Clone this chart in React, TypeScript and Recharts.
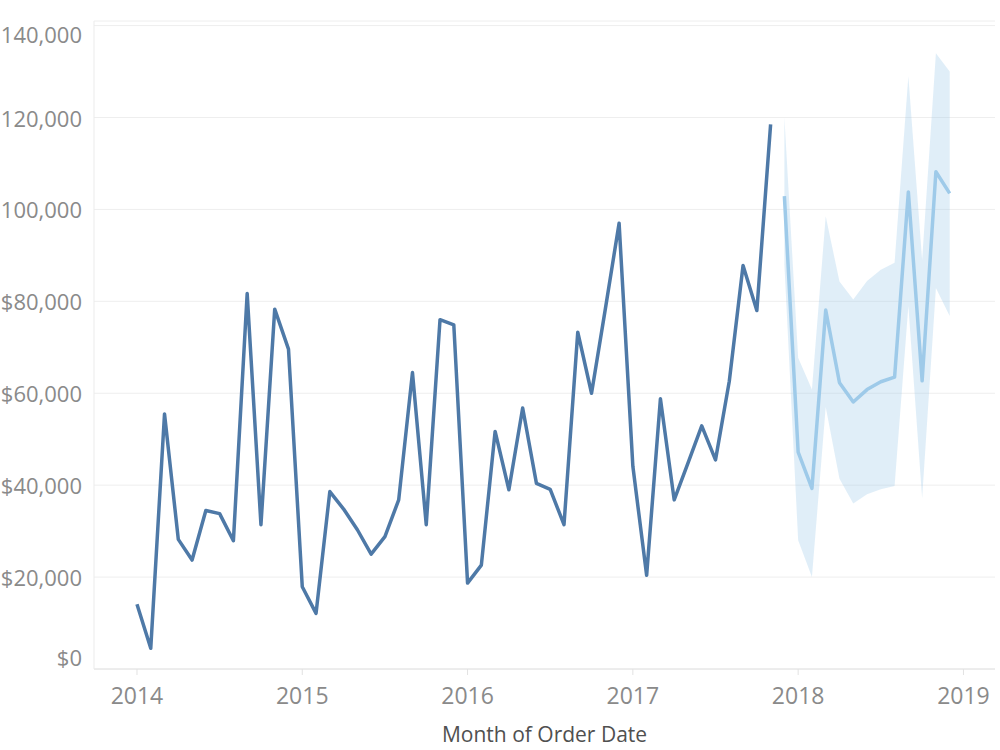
import React from 'react';
import { ComposedChart, Line, Area, XAxis, YAxis, CartesianGrid } from 'recharts';

// Month index 0 = Jan 2014
const actualSales = [
  14100, 4500, 55500, 28200, 23700, 34500, 33800, 27900, 81700, 31400, 78300, 69600,
  17900, 12100, 38600, 34800, 30300, 25000, 28800, 36800, 64500, 31400, 76000, 74900,
  18700, 22600, 51700, 39000, 56800, 40400, 39100, 31400, 73300, 60000, 78300, 97000,
  44100, 20400, 58800, 36800, 44800, 52900, 45500, 62600, 87800, 78000, 118500,
];
// Forecast: Dec 2017 .. Dec 2018
const forecastSales = [102900, 47200, 39300, 78100, 62300, 58100, 60800, 62500, 63500, 103800, 62700, 108200, 103500];
const forecastLow = [88000, 28000, 20000, 57000, 41400, 36000, 38000, 39100, 39800, 79000, 37200, 82900, 76800];
const forecastHigh = [120000, 67700, 60800, 98500, 84300, 80400, 84400, 86900, 88400, 129000, 89000, 134000, 130000];

const yearLabels = ['2014', '2015', '2016', '2017', '2018', '2019'];
const yearStartMonths = [0, 12, 24, 36, 48, 60];
const yTicks = [0, 20000, 40000, 60000, 80000, 100000, 120000, 140000];

const totalMonths = actualSales.length + forecastSales.length;
const data = Array.from({ length: totalMonths }, (_, i) => {
  const f = i - actualSales.length;
  return {
    m: i,
    actual: i < actualSales.length ? actualSales[i] : null,
    forecast: f >= 0 ? forecastSales[f] : null,
    band: f >= 0 ? [forecastLow[f], forecastHigh[f]] : null,
  };
});

const FONT = '"Open Sans", sans-serif';

const YTick = (props: any) => {
  const { x, y, payload } = props;
  let dy = 0;
  if (payload.value === 0) dy = -12;
  if (payload.value === 140000) dy = 8;
  return (
    <text x={x} y={y + dy} textAnchor="end" dominantBaseline="central" fontFamily={FONT} fontSize={22} fill="#8a8a8a">
      {'$' + payload.value.toLocaleString('en-US')}
    </text>
  );
};

const XTick = (props: any) => {
  const { x, y, payload } = props;
  const idx = yearStartMonths.indexOf(payload.value);
  return (
    <text x={x} y={y + 18} textAnchor="middle" dominantBaseline="central" fontFamily={FONT} fontSize={23} fill="#8a8a8a">
      {idx >= 0 ? yearLabels[idx] : ''}
    </text>
  );
};

export default function App() {
  return (
    <div style={{ position: 'absolute', left: 0, top: 0, background: '#fff' }}>
      <ComposedChart width={1000} height={750} data={data} margin={{ top: 21, right: 5, bottom: 0, left: 0 }}>
        <CartesianGrid vertical={false} stroke="#eeeeee" />
        <XAxis
          type="number"
          dataKey="m"
          domain={[-3.12, 62.29]}
          ticks={yearStartMonths}
          allowDataOverflow
          height={81}
          tickSize={6}
          tickMargin={2}
          stroke="#e2e2e2"
          tickLine={{ stroke: '#e2e2e2' }}
          axisLine={{ stroke: '#e2e2e2' }}
          tick={<XTick />}
          label={{ value: 'Month of Order Date', position: 'insideBottom', offset: 8, fontFamily: FONT, fontSize: 21, fill: '#505050' }}
        />
        <YAxis
          type="number"
          domain={[0, 141000]}
          ticks={yTicks}
          allowDataOverflow
          width={94}
          tickSize={0}
          tickMargin={12}
          tickLine={false}
          axisLine={{ stroke: '#ebebeb' }}
          tick={<YTick />}
        />
        <Area
          type="linear"
          dataKey="band"
          stroke="none"
          fill="#a0cbe8"
          fillOpacity={0.32}
          isAnimationActive={false}
          connectNulls={false}
          activeDot={false}
        />
        <Line
          type="linear"
          dataKey="actual"
          stroke="#4e79a7"
          strokeWidth={3.5}
          strokeLinejoin="round"
          dot={false}
          activeDot={false}
          isAnimationActive={false}
          connectNulls={false}
        />
        <Line
          type="linear"
          dataKey="forecast"
          stroke="#9ecae9"
          strokeWidth={3.5}
          strokeLinejoin="round"
          dot={false}
          activeDot={false}
          isAnimationActive={false}
          connectNulls={false}
        />
      </ComposedChart>
    </div>
  );
}
